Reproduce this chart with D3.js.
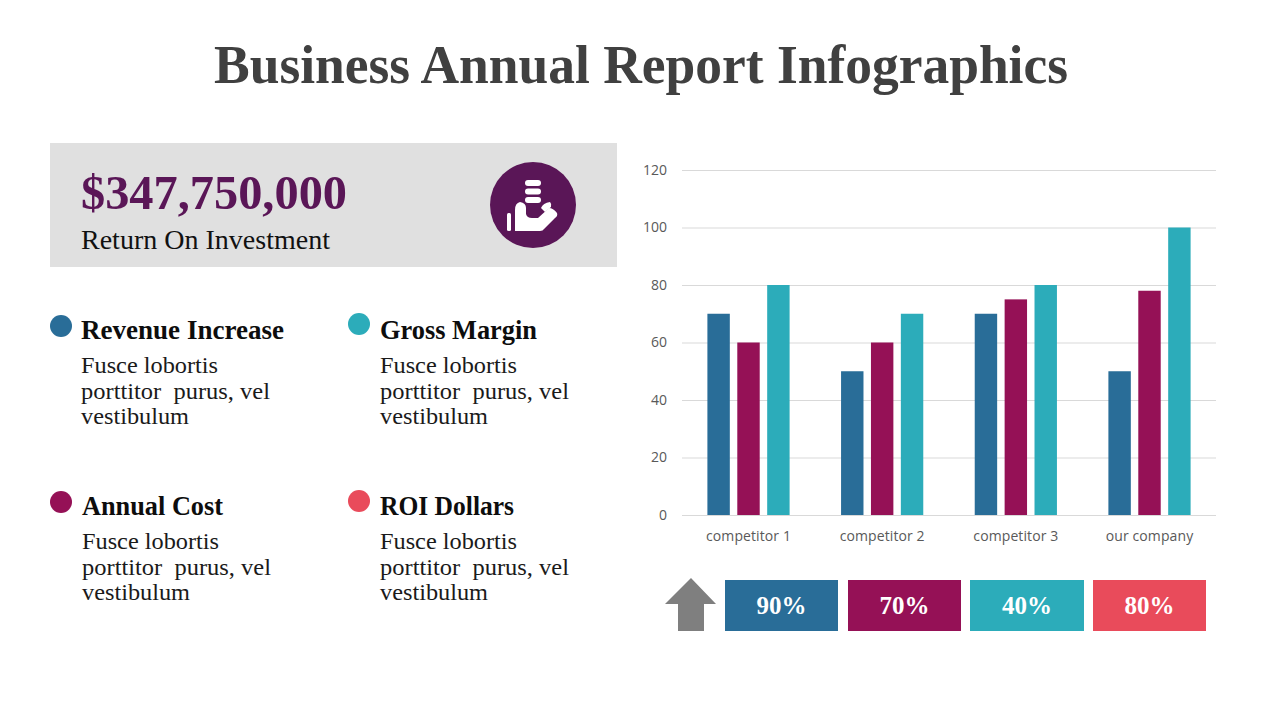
<!DOCTYPE html>
<html>
<head>
<meta charset="utf-8">
<script src="https://cdnjs.cloudflare.com/ajax/libs/d3/7.8.5/d3.min.js"></script>
<style>
    html, body { margin: 0; padding: 0; background: #fff; }
    svg { display: block; }
    text { font-family: "Liberation Serif", serif; }
    .axis text { font-family: "Open Sans", sans-serif; font-size: 14px; fill: #595959; }
    .axis path, .axis line { stroke: #d9d9d9; }
</style>
</head>
<body>
<svg id="chart" width="1280" height="720"></svg>
<script>
// chart data
const categories = ['competitor 1', 'competitor 2', 'competitor 3', 'our company'];
const seriesNames = ['blue', 'purple', 'teal'];
const blueValues = [70, 50, 70, 50];
const purpleValues = [60, 60, 75, 78];
const tealValues = [80, 70, 80, 100];
const yTicks = [0, 20, 40, 60, 80, 100, 120];

// text
const titleText = 'Business Annual Report Infographics';
const roiText = '$347,750,000';
const roiLabel = 'Return On Investment';
const cardTitles = ['Revenue Increase', 'Gross Margin', 'Annual Cost', 'ROI Dollars'];
const cardLines = ['Fusce lobortis', 'porttitor  purus, vel', 'vestibulum'];
const percentLabels = ['90%', '70%', '40%', '80%'];

const blue = '#296d98', purple = '#951156', teal = '#2cacba', red = '#e94b5b';
const seriesColors = [blue, purple, teal];
const cardColors = [blue, teal, purple, red];

let svg = d3.select('#chart');

function fitText(sel, width)
{
    sel.attr('textLength', width).attr('lengthAdjust', 'spacingAndGlyphs');
    return sel;
}

// title
fitText(svg.append('text')
    .attr('x', 214).attr('y', 83)
    .style('font-size', '54px').style('font-weight', 'bold')
    .style('fill', '#404040')
    .text(titleText), 854);

// roi panel
svg.append('rect').attr('x', 50).attr('y', 143).attr('width', 567).attr('height', 124).attr('fill', '#e0e0e0');

fitText(svg.append('text')
    .attr('x', 81).attr('y', 209)
    .style('font-size', '49px').style('font-weight', 'bold')
    .style('fill', '#5a1657')
    .text(roiText), 266);

fitText(svg.append('text')
    .attr('x', 81).attr('y', 249)
    .style('font-size', '27px')
    .style('fill', '#111')
    .text(roiLabel), 249);

// hand and coins icon
let icon = svg.append('g');
icon.append('circle').attr('cx', 533).attr('cy', 205).attr('r', 43).attr('fill', '#5a1657');
[180, 188.5, 197].forEach(function(y){
    icon.append('rect')
        .attr('x', 525).attr('y', y)
        .attr('width', 16).attr('height', 6).attr('rx', 3)
        .attr('fill', '#fff');
});
icon.append('rect').attr('x', 507).attr('y', 213).attr('width', 4).attr('height', 18).attr('rx', 1.5).attr('fill', '#fff');
icon.append('path')
    .attr('d', 'M515 231 L515 210 Q515 203 520 202 Q526 203 526 208 L526 214 Q527 218 532 218 L538 218 L549 208 Q553 208 557 213 Q558 216 555 218 L544 229 Q543 231 540 231 Z')
    .attr('fill', '#fff');
icon.append('path')
    .attr('d', 'M541 208 Q543 203 550 202 Q552 204 551 207 L545 212 Z')
    .attr('fill', '#fff');

// cards on the left
const cardX = [81, 380, 82, 380];
const dotX = [61, 359, 61, 359];
const dotY = [326, 324, 502, 501];
const headY = [339, 339, 515, 515];
const headWidths = [203, 157, 141, 134];
const lineOffsets = [34, 60, 85];
const lineWidths = [137, 189, 108];

let cards = svg.selectAll('.card')
    .data(cardTitles)
    .enter()
    .append('g')
    .attr('class', 'card');

cards.append('circle')
    .attr('cx', (d, i) => dotX[i])
    .attr('cy', (d, i) => dotY[i])
    .attr('r', 11)
    .attr('fill', (d, i) => cardColors[i]);

cards.append('text')
    .attr('x', (d, i) => cardX[i])
    .attr('y', (d, i) => headY[i])
    .attr('textLength', (d, i) => headWidths[i])
    .attr('lengthAdjust', 'spacingAndGlyphs')
    .style('font-size', '27px').style('font-weight', 'bold')
    .style('fill', '#0d0d0d')
    .text(d => d);

cards.each(function(d, i){
    let g = d3.select(this);
    cardLines.forEach(function(line, j){
        fitText(g.append('text')
            .attr('x', cardX[i])
            .attr('y', headY[i] + lineOffsets[j])
            .attr('xml:space', 'preserve')
            .style('font-size', '24px')
            .style('fill', '#1a1a1a')
            .text(line), lineWidths[j]);
    });
});

// bar chart
let x = d3.scaleBand()
    .domain(categories)
    .range([682, 1216])
    .paddingInner(0.385)
    .paddingOuter(0.19);

let xInner = d3.scaleBand()
    .domain(seriesNames)
    .range([0, x.bandwidth()])
    .paddingInner(0.25);

let y = d3.scaleLinear()
    .domain([0, 120])
    .range([515, 170]);

svg.append('g')
    .attr('class', 'axis')
    .attr('transform', 'translate(682,0)')
    .call(d3.axisLeft(y).tickValues(yTicks).tickSize(-534).tickPadding(15))
    .call(g => g.select('.domain').remove())
    .call(g => g.selectAll('text').attr('x', -15));

let seriesData = [blueValues, purpleValues, tealValues];

let groups = svg.selectAll('.group')
    .data(categories)
    .enter()
    .append('g')
    .attr('class', 'group')
    .attr('transform', d => 'translate(' + x(d) + ',0)');

groups.selectAll('rect')
    .data((d, i) => seriesNames.map((s, k) => ({ series: s, value: seriesData[k][i], color: seriesColors[k] })))
    .enter()
    .append('rect')
    .attr('x', d => xInner(d.series))
    .attr('y', d => y(d.value))
    .attr('width', xInner.bandwidth())
    .attr('height', d => y(0) - y(d.value))
    .attr('fill', d => d.color);

svg.append('g')
    .attr('class', 'axis')
    .attr('transform', 'translate(0,515)')
    .call(d3.axisBottom(x).tickSize(0).tickPadding(16))
    .call(g => g.select('.domain').attr('d', 'M682,0.5H1216'))
    .call(g => g.selectAll('text').style('letter-spacing', '0.1px'));

// arrow and percent boxes
svg.append('path')
    .attr('d', 'M691 578 L716 604 L704 604 L704 631 L678 631 L678 604 L665 604 Z')
    .attr('fill', '#7f7f7f');

const boxX = [725, 848, 970, 1093];
const boxW = [113, 113, 114, 113];
const boxColors = [blue, purple, teal, red];

let boxes = svg.selectAll('.box')
    .data(percentLabels)
    .enter()
    .append('g')
    .attr('class', 'box');

boxes.append('rect')
    .attr('x', (d, i) => boxX[i])
    .attr('y', 580)
    .attr('width', (d, i) => boxW[i])
    .attr('height', 51)
    .attr('fill', (d, i) => boxColors[i]);

boxes.append('text')
    .attr('x', (d, i) => boxX[i] + boxW[i] / 2)
    .attr('y', 614)
    .attr('text-anchor', 'middle')
    .style('font-size', '25px').style('font-weight', 'bold')
    .style('fill', '#fff')
    .text(d => d);
</script>
</body>
</html>
